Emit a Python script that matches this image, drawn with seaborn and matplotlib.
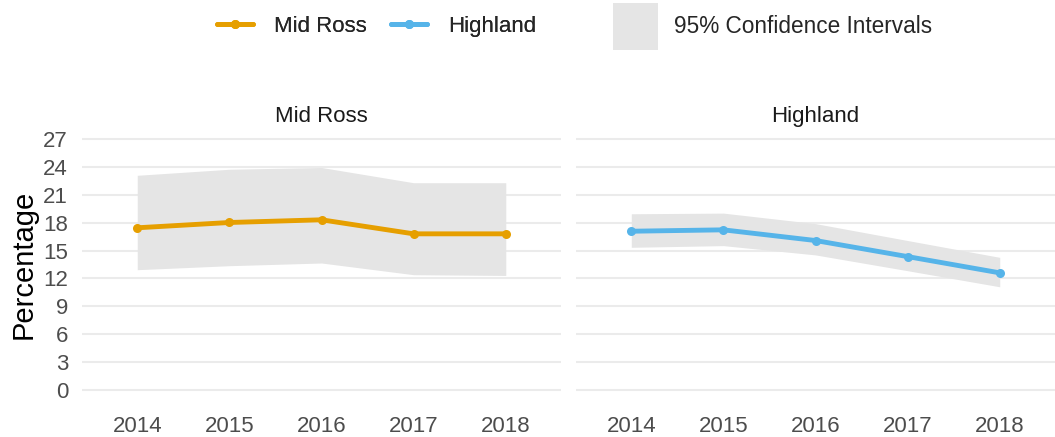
import numpy as np
import pandas as pd
import matplotlib
matplotlib.use('Agg')
import matplotlib.pyplot as plt
import seaborn as sns
from matplotlib.lines import Line2D
from matplotlib.patches import Patch

# data
years = [2014, 2015, 2016, 2017, 2018]
areas = ['Mid Ross', 'Highland']
mid_ross = [17.45, 18.02, 18.31, 16.8, 16.8]
mid_ross_lower = [12.94, 13.37, 13.66, 12.4, 12.32]
mid_ross_upper = [23.1, 23.75, 23.94, 22.3, 22.3]
highland = [17.08, 17.23, 16.08, 14.35, 12.6]
highland_lower = [15.35, 15.53, 14.53, 12.83, 11.1]
highland_upper = [18.96, 19.03, 17.9, 16.08, 14.27]
y_ticks = [0, 3, 6, 9, 12, 15, 18, 21, 24, 27]

colors = {'Mid Ross': '#E69F00', 'Highland': '#56B4E9'}

df = pd.DataFrame({
    'Year': years * 2,
    'Area': ['Mid Ross'] * 5 + ['Highland'] * 5,
    'Percentage': mid_ross + highland,
    'Lower': mid_ross_lower + highland_lower,
    'Upper': mid_ross_upper + highland_upper,
})

sns.set_theme(style='white')
plt.rcParams['font.family'] = ['Liberation Sans', 'DejaVu Sans']

fig = plt.figure(figsize=(10.55, 4.37), dpi=100)
bottom, top = 0.079, 0.7105
ax1 = fig.add_axes([0.0777, bottom, 0.5318 - 0.0777, top - bottom])
ax2 = fig.add_axes([0.546, bottom, 1.0 - 0.546, top - bottom])

for ax, area in zip([ax1, ax2], areas):
    d = df[df['Area'] == area]
    for yv in y_ticks:
        ax.axhline(yv, color='#EBEBEB', lw=1.5, zorder=0)
    ax.fill_between(d['Year'], d['Lower'], d['Upper'], color='#E5E5E5', lw=0, zorder=1)
    sns.lineplot(data=d, x='Year', y='Percentage', color=colors[area], lw=3.5,
                 marker='o', markersize=6.5, markeredgewidth=0, ax=ax, zorder=3)
    ax.set_xlim(2013.4, 2018.6)
    ax.set_ylim(-1.35, 28.35)
    ax.set_xticks(years)
    ax.set_xticklabels([str(y) for y in years])
    ax.set_yticks(y_ticks)
    ax.tick_params(axis='both', length=0, labelsize=16, colors='#4D4D4D')
    ax.tick_params(axis='x', pad=10)
    ax.tick_params(axis='y', pad=10)
    for s in ax.spines.values():
        s.set_visible(False)
    ax.set_xlabel('')
    ax.set_title(area, fontsize=16, color='#1A1A1A', pad=3)
    ax.grid(False)

ax1.set_ylabel('Percentage', fontsize=21, color='black', labelpad=4)
ax2.set_ylabel('')
ax2.set_yticklabels([])

line_handles = [Line2D([0], [0], color=colors[a], lw=3.5, marker='o', markersize=6.5,
                       markeredgewidth=0) for a in areas]
leg1 = fig.legend(line_handles, areas, loc='center left', bbox_to_anchor=(0.187, 0.94),
                  ncol=2, frameon=False, fontsize=16, handlelength=1.6,
                  handletextpad=0.95, columnspacing=1.1)
leg2 = fig.legend([Patch(facecolor='#E5E5E5', edgecolor='none')], ['95% Confidence Intervals'],
                  loc='center left', bbox_to_anchor=(0.5615, 0.94), frameon=False,
                  fontsize=16.3, handlelength=2.0, handleheight=2.8, handletextpad=0.7)
fig.add_artist(leg1)

fig.savefig('out.png', dpi=100)
